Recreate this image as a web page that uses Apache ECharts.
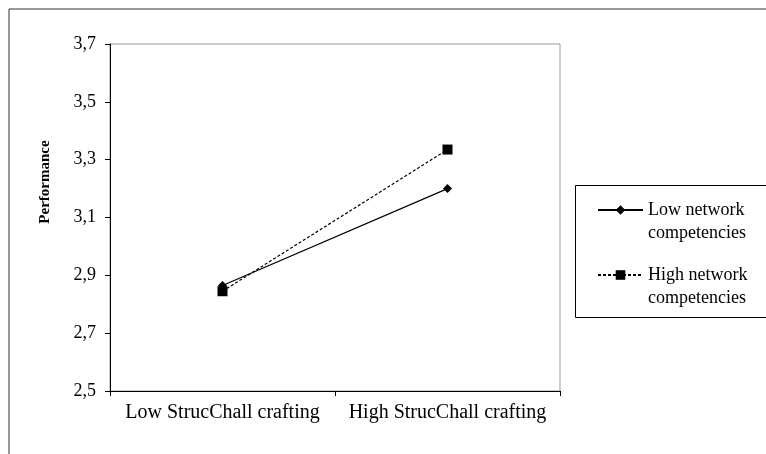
<!DOCTYPE html>
<html>
<head>
<meta charset="utf-8">
<script src="https://cdn.jsdelivr.net/npm/echarts@6/dist/echarts.min.js"></script>
<style>
  html, body { margin: 0; padding: 0; background: #fff; }
  #chart { width: 766px; height: 454px; }
</style>
</head>
<body>
<div id="chart"></div>
<script>
// categories on the x axis
const categories = ['Low StrucChall crafting', 'High StrucChall crafting'];
// performance values
const lowNetwork = [2.865, 3.20];
const highNetwork = [2.845, 3.335];
const seriesNames = ['Low network\ncompetencies', 'High network\ncompetencies'];
// y axis range
const yMin = 2.5;
const yMax = 3.7;
const yStep = 0.2;

const chart = echarts.init(document.getElementById('chart'));

const font = 'Liberation Serif';
const lh = 23;

// one legend per item; a blank first line keeps the icon level with the name's first line
function legendFor(name, mid) {
  return {
    data: [name],
    left: 597,
    top: mid - lh * 1.5,
    padding: 0,
    itemWidth: 45,
    itemHeight: 12,
    selectedMode: false,
    formatter: n => ' \n' + n,
    textStyle: {
      fontFamily: font,
      fontSize: 18,
      color: '#000',
      lineHeight: lh
    }
  };
}

const option = {
  backgroundColor: '#fff',
  animation: false,
  grid: {
    left: 110,
    right: 206,
    top: 44,
    bottom: 63,
    show: true,
    borderColor: '#999',
    borderWidth: 1
  },
  graphic: [
    {
      type: 'rect',
      shape: { x: 9, y: 9, width: 800, height: 500 },
      style: { fill: 'none', stroke: '#333', lineWidth: 1 }
    },
    {
      type: 'rect',
      shape: { x: 575.5, y: 185.5, width: 200, height: 132 },
      style: { fill: 'none', stroke: '#000', lineWidth: 1 }
    },
    {
      type: 'text',
      x: 45,
      y: 182,
      rotation: Math.PI / 2,
      style: {
        text: 'Performance',
        fontFamily: font,
        fontSize: 15,
        fontWeight: 'bold',
        fill: '#000',
        align: 'center',
        verticalAlign: 'middle'
      }
    }
  ],
  legend: [
    legendFor(seriesNames[0], 210),
    legendFor(seriesNames[1], 275)
  ],
  xAxis: {
    type: 'category',
    data: categories,
    boundaryGap: true,
    axisLine: { lineStyle: { color: '#000', width: 1 } },
    axisTick: { show: true, length: 5, inside: false, lineStyle: { color: '#000' } },
    axisLabel: { interval: 0, hideOverlap: false, fontFamily: font, fontSize: 20, color: '#000', margin: 12 },
    splitLine: { show: false }
  },
  yAxis: {
    type: 'value',
    min: yMin,
    max: yMax,
    interval: yStep,
    axisLine: { show: true, lineStyle: { color: '#000', width: 1 } },
    axisTick: { show: true, length: 5, lineStyle: { color: '#000' } },
    axisLabel: {
      fontFamily: font,
      fontSize: 18,
      color: '#000',
      margin: 14,
      formatter: v => v.toFixed(1).replace('.', ',')
    },
    splitLine: { show: false }
  },
  series: [
    {
      name: seriesNames[0],
      type: 'line',
      data: lowNetwork,
      symbol: 'diamond',
      symbolSize: 9,
      lineStyle: { color: '#000', width: 1.2, type: 'solid' },
      itemStyle: { color: '#000' }
    },
    {
      name: seriesNames[1],
      type: 'line',
      data: highNetwork,
      symbol: 'rect',
      symbolSize: 10,
      lineStyle: { color: '#000', width: 1.2, type: [3, 2] },
      itemStyle: { color: '#000' }
    }
  ]
};

chart.setOption(option);
</script>
</body>
</html>
